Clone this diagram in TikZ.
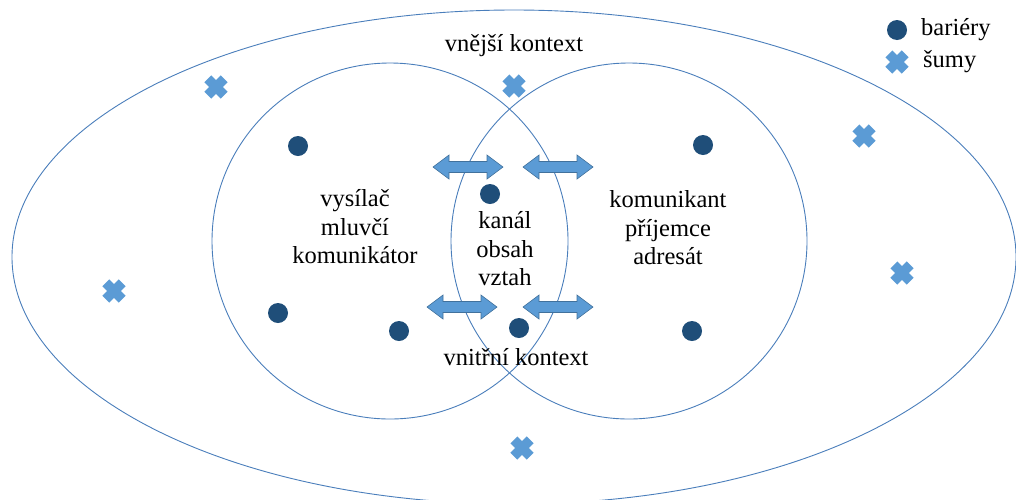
\documentclass[tikz,border=0pt]{standalone}
\usepackage{fontspec}
\setmainfont{Liberation Serif}
\definecolor{lineblue}{HTML}{4A7EBB}
\definecolor{dotblue}{HTML}{1F4E79}
\definecolor{lightblue}{HTML}{5B9BD5}
\definecolor{arrowedge}{HTML}{41719C}
\tikzset{
  outline/.style={draw=lineblue, line width=0.9pt},
  dot/.style={circle, fill=dotblue, minimum size=20pt, inner sep=0pt},
  lbl/.style={align=center, inner sep=0pt, font=\fontsize{24.5}{28.5}\selectfont},
  dblarrow/.pic={
    \filldraw[fill=lightblue, draw=arrowedge, line width=0.6pt]
      (-35,0) -- (-19,-12) -- (-19,-5.5) -- (19,-5.5) -- (19,-12) -- (35,0)
      -- (19,12) -- (19,5.5) -- (-19,5.5) -- (-19,12) -- cycle;
  },
  noise/.pic={
    \fill[lightblue, rotate=45] (-11.5,-4.8) rectangle (11.5,4.8);
    \fill[lightblue, rotate=-45] (-11.5,-4.8) rectangle (11.5,4.8);
  }
}
\begin{document}
\begin{tikzpicture}[x=1pt, y=-1pt]
\useasboundingbox (0,0) rectangle (1016,499);
\clip (0,0) rectangle (1016,499);
% ellipses
\draw[outline] (514,257) ellipse [x radius=502, y radius=247];
\draw[outline] (390,241) circle [radius=178];
\draw[outline] (629,241) circle [radius=178];
% arrows
\pic at (468,167) {dblarrow};
\pic at (558,167) {dblarrow};
\pic at (462,307) {dblarrow};
\pic at (558,307) {dblarrow};
% barriers
\node[dot] (d1) at (298,146) {};
\node[dot] (d2) at (703,145) {};
\node[dot] (d3) at (490,194) {};
\node[dot] (d4) at (278,313) {};
\node[dot] (d5) at (399,331) {};
\node[dot] (d6) at (519,328) {};
\node[dot] (d7) at (692,331) {};
% noises
\pic at (216,87) {noise};
\pic at (514,86) {noise};
\pic at (864,136) {noise};
\pic at (114,291) {noise};
\pic at (902,273) {noise};
\pic at (522,448) {noise};
% texts
\node[lbl] (outer) at (514,46) {vnější kontext};
\node[lbl] (sender) at (355,227) {vysílač\\mluvčí\\komunikátor};
\node[lbl] (channel) at (505,249) {kanál\\obsah\\vztah};
\node[lbl] (receiver) at (668,228) {komunikant\\příjemce\\adresát};
\node[lbl] (inner) at (516,357) {vnitřní kontext};
% legend
\node[dot] (ldot) at (897,30) {};
\node[lbl, anchor=west] (lbar) at (921,30) {bariéry};
\pic at (897,62) {noise};
\node[lbl, anchor=west] (lnoise) at (923,62) {šumy};
\end{tikzpicture}
\end{document}
